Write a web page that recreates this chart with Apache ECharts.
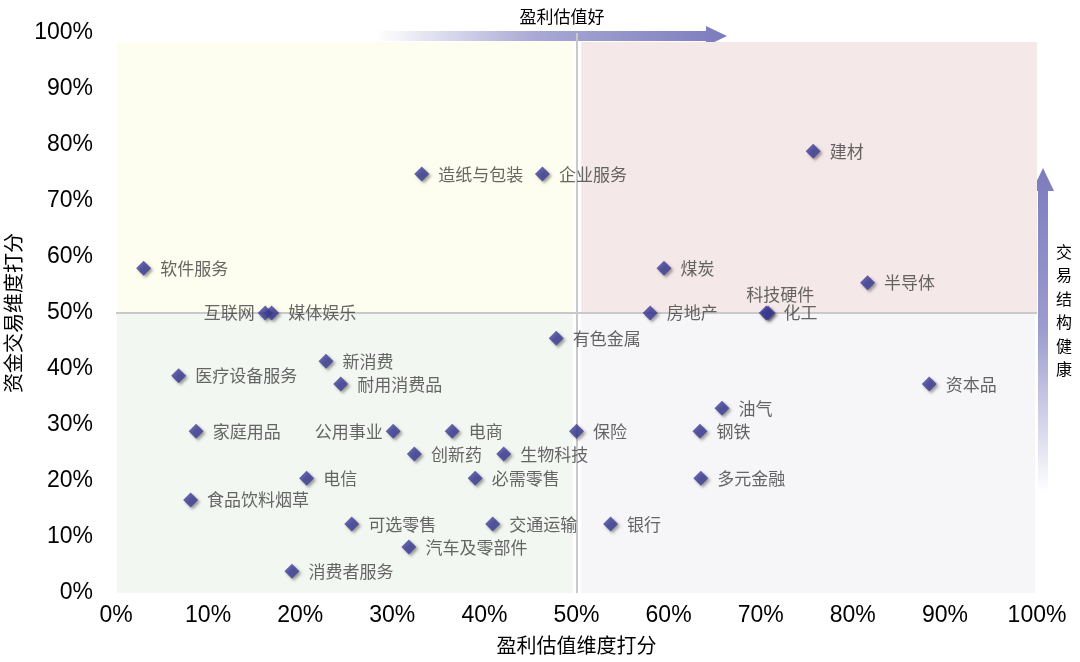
<!DOCTYPE html>
<html>
<head>
<meta charset="utf-8">
<script src="https://cdn.jsdelivr.net/npm/echarts@6/dist/echarts.min.js"></script>
<style>
html,body{margin:0;padding:0;background:#fff;}
#chart{width:1080px;height:662px;}
</style>
</head>
<body>
<div id="chart"></div>
<script>
// ---- data ----
var sectors = ['软件服务','造纸与包装','企业服务','建材','煤炭','半导体','互联网','媒体娱乐','房地产','科技硬件','化工',
  '有色金属','新消费','医疗设备服务','耐用消费品','资本品','油气','家庭用品','公用事业','电商','保险','钢铁',
  '创新药','生物科技','电信','必需零售','多元金融','食品饮料烟草','可选零售','交通运输','银行','汽车及零部件','消费者服务'];
var profitScore = [3.0,33.2,46.3,75.7,59.5,81.6,16.2,16.9,58.0,70.6,70.8,
  47.8,22.8,6.8,24.4,88.3,65.8,8.7,30.1,36.5,50.0,63.4,
  32.4,42.1,20.7,39.0,63.5,8.1,25.6,40.9,53.7,31.8,19.1];
var tradeScore = [58.0,74.8,74.8,78.9,58.0,55.4,50.0,50.0,50.0,50.0,50.0,
  45.5,41.4,38.8,37.3,37.3,33.0,28.9,28.9,28.9,28.9,28.9,
  24.8,24.8,20.5,20.5,20.5,16.6,12.3,12.3,12.3,8.2,3.9];
var labelSide = {'互联网':'left','公用事业':'left','科技硬件':'top'};
var xTicks = [0,10,20,30,40,50,60,70,80,90,100];
var yTicks = [0,10,20,30,40,50,60,70,80,90,100];
var quadrantTitles = ['短期交易机会','优先布局','暂时回避','持续关注但等待时机'];
var xAxisName = '盈利估值维度打分';
var yAxisName = '资金交易维度打分';
var topArrowText = '盈利估值好';
var rightArrowText = '交易结构健康';

var CJK = "'Noto Sans CJK SC','Liberation Sans',sans-serif";
var NUM = "'Liberation Sans','Noto Sans CJK SC',sans-serif";

var points = sectors.map(function(n,i){
  var d = {name:n, value:[profitScore[i], tradeScore[i]]};
  var side = labelSide[n];
  if (side === 'left') d.label = {position:'left', distance:3};
  if (side === 'top') d.label = {position:'top', distance:2, offset:[14,0]};
  if (n === '化工') d.label = {position:'right', distance:8};
  return d;
});

var chart = echarts.init(document.getElementById('chart'), null, {renderer:'canvas'});
var option = {
  backgroundColor:'#ffffff',
  animation:false,
  grid:{left:116, right:43, top:33, bottom:69, containLabel:false, outerBoundsMode:'none'},
  xAxis:{
    type:'value', min:xTicks[0], max:xTicks[xTicks.length-1], interval:10,
    axisLine:{show:false}, axisTick:{show:false}, splitLine:{show:false},
    axisLabel:{formatter:'{value}%', fontSize:23, color:'#000', fontFamily:NUM, margin:11},
    name:xAxisName, nameLocation:'middle', nameGap:42,
    nameTextStyle:{fontSize:20, color:'#000', fontFamily:CJK}
  },
  yAxis:{
    type:'value', min:yTicks[0], max:yTicks[yTicks.length-1], interval:10,
    axisLine:{show:false}, axisTick:{show:false}, splitLine:{show:false},
    axisLabel:{formatter:'{value}%', fontSize:23, color:'#000', fontFamily:NUM, margin:23},
    name:yAxisName, nameLocation:'middle', nameGap:83,
    nameTextStyle:{fontSize:20, color:'#000', fontFamily:CJK}
  },
  series:[{
    type:'scatter',
    clip:false,
    z:3,
    symbol:'diamond',
    symbolSize:15,
    itemStyle:{color:'#3C3C96', shadowBlur:3, shadowColor:'rgba(0,0,0,0.45)', shadowOffsetX:2, shadowOffsetY:2},
    label:{show:true, formatter:'{b}', position:'right', distance:9, fontSize:17, color:'#404040', fontFamily:CJK},
    data:points,
    markArea:{
      silent:true,
      z:1,
      label:{show:false},
      data:[
        [{coord:[0.1,50], itemStyle:{color:'#FEFEF0'}},{coord:[49.6,98.4]}],
        [{coord:[50.5,50], itemStyle:{color:'#F5E8E8'}},{coord:[100.2,98.4]}],
        [{coord:[0.1,-1.2], itemStyle:{color:'#F3F7F2'}},{coord:[49.6,50]}],
        [{coord:[50.5,-1.2], itemStyle:{color:'#F6F6F8'}},{coord:[99.8,50]}]
      ]
    },
    markLine:{
      silent:true, symbol:'none', label:{show:false},
      z:2,
      lineStyle:{color:'#C9C9C9', width:2, type:'solid'},
      data:[
        [{coord:[0,50]},{coord:[100,50]}],
        [{coord:[50,0]},{coord:[50,100]}]
      ]
    }
  }],
  graphic:[
    {type:'text', left:133, top:48, style:{text:quadrantTitles[0], fill:'#FF0000', font:'bold 20px '+CJK}},
    {type:'text', right:50, top:48, style:{text:quadrantTitles[1], fill:'#FF0000', font:'bold 20px '+CJK}},
    {type:'text', left:133, top:569, style:{text:quadrantTitles[2], fill:'#FF0000', font:'bold 20px '+CJK}},
    {type:'text', right:55, top:567, style:{text:quadrantTitles[3], fill:'#FF0000', font:'bold 20px '+CJK}},
    {type:'polygon', shape:{points:[[377,31],[706,31],[706,26],[727,36],[706,46],[706,41],[377,41]]},
      style:{fill:new echarts.graphic.LinearGradient(0,0,1,0,[{offset:0,color:'#FFFFFF'},{offset:0.45,color:'#A9A9D5'},{offset:1,color:'#7C7CBE'}])}},
    {type:'text', x:562, y:17, style:{text:topArrowText, fill:'#000', font:'17px '+CJK, align:'center', verticalAlign:'middle'}},
    {type:'polygon', shape:{points:[[1038,493],[1038,191],[1032,191],[1043,168],[1054,191],[1048,191],[1048,493]]},
      style:{fill:new echarts.graphic.LinearGradient(0,0,0,1,[{offset:0,color:'#7C7CBE'},{offset:0.5,color:'#9C9CCF'},{offset:1,color:'#FFFFFF'}])}},
    {type:'text', x:1064, y:240, style:{text:rightArrowText.split('').join('\n'), fill:'#000', font:'16px '+CJK, lineHeight:23.5, align:'center', verticalAlign:'top'}}
  ]
};
chart.setOption(option);
</script>
</body>
</html>
